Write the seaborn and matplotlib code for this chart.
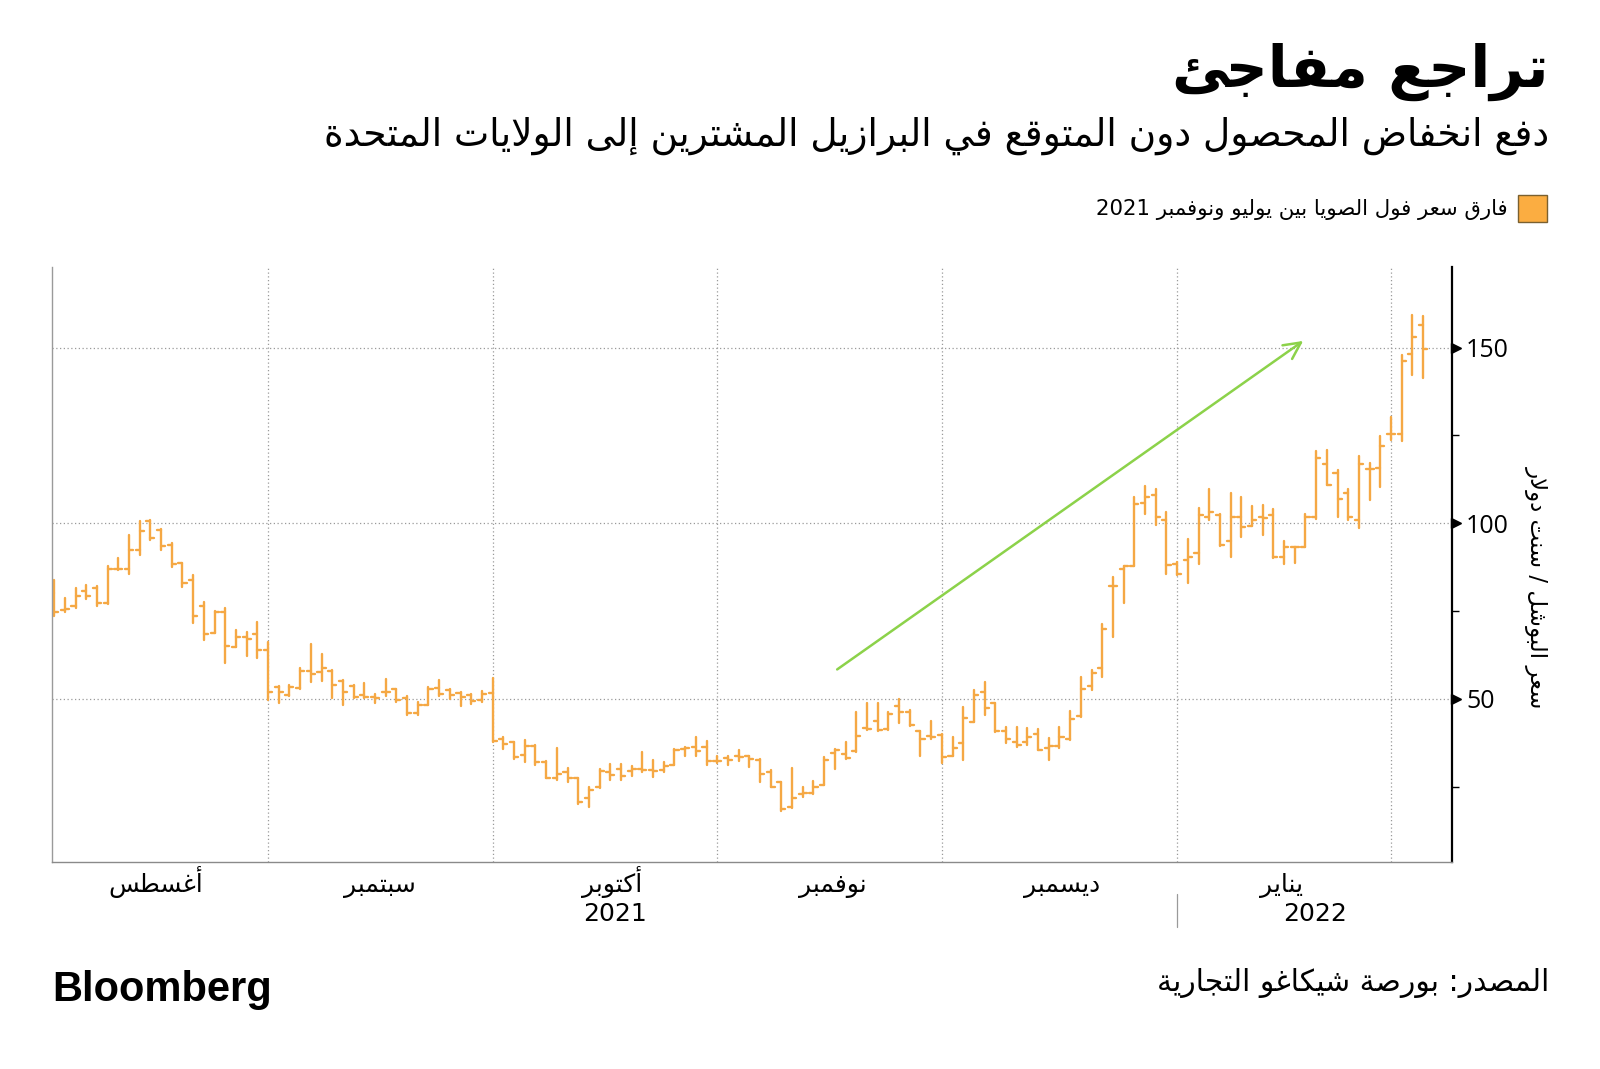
import re
import numpy as np
import pandas as pd
import matplotlib
matplotlib.use("Agg")
import matplotlib.pyplot as plt
import matplotlib.transforms as mtransforms
from matplotlib.patches import Rectangle
import seaborn as sns

# ---------------- data ----------------
bar_open = [80.0, 75.3, 76.5, 80.6, 81.5, 77.2, 87.0, 86.9, 92.3, 100.5,
            98.1, 93.9, 88.6, 83.9, 76.5, 68.7, 74.6, 64.7, 67.7, 68.5,
            63.8, 53.3, 51.1, 53.0, 57.8, 57.5, 58.0, 55.2, 53.7, 51.1,
            50.5, 51.9, 52.7, 50.2, 45.9, 48.3, 53.0, 52.4, 51.6, 51.1,
            49.7, 51.6, 38.4, 37.6, 34.0, 36.6, 32.1, 27.4, 29.0, 27.4,
            21.7, 25.0, 29.0, 30.0, 29.3, 30.0, 29.8, 29.6, 31.2, 35.6,
            36.4, 36.2, 32.4, 33.1, 33.8, 33.6, 32.6, 29.0, 26.2, 19.1,
            22.9, 23.1, 25.5, 34.5, 34.3, 35.0, 41.6, 43.8, 41.3, 47.8,
            46.1, 40.7, 39.5, 39.7, 33.6, 37.4, 43.5, 51.8, 48.9, 40.7,
            37.8, 37.8, 40.0, 35.9, 36.6, 38.5, 45.1, 53.7, 58.7, 82.2,
            86.9, 87.9, 105.7, 108.1, 100.8, 88.4, 89.4, 91.5, 101.9, 102.4,
            95.0, 101.9, 99.2, 101.9, 102.4, 90.3, 93.2, 93.2, 101.7, 116.9,
            114.4, 108.7, 100.9, 115.4, 115.7, 125.5, 125.5, 148.3, 156.6]
bar_high = [83.9, 78.7, 81.5, 82.5, 82.0, 87.7, 90.1, 96.7, 100.5, 100.8,
            98.3, 94.5, 88.8, 85.3, 77.7, 74.9, 75.8, 69.7, 68.9, 72.0,
            66.3, 53.5, 54.0, 58.7, 65.6, 62.7, 58.2, 55.4, 54.0, 54.4,
            51.4, 55.6, 52.7, 50.8, 49.2, 53.3, 55.4, 52.7, 51.8, 51.3,
            52.1, 56.0, 39.2, 37.8, 38.3, 36.9, 32.4, 35.9, 30.2, 27.4,
            25.0, 29.9, 31.5, 31.5, 30.9, 34.7, 32.6, 32.1, 35.6, 36.4,
            39.1, 38.1, 33.8, 33.8, 35.5, 33.8, 32.8, 29.6, 26.4, 30.2,
            25.0, 26.7, 33.4, 35.7, 37.6, 46.1, 48.9, 48.9, 46.1, 49.9,
            46.7, 40.7, 43.8, 40.0, 39.1, 47.6, 52.5, 54.9, 48.9, 41.9,
            41.9, 41.6, 41.3, 38.8, 42.1, 46.6, 56.1, 58.2, 71.4, 84.7,
            87.9, 107.4, 110.7, 109.7, 103.1, 89.1, 95.5, 104.3, 109.7, 102.7,
            108.5, 107.4, 104.9, 105.2, 104.0, 95.0, 93.2, 102.7, 120.7, 120.9,
            115.2, 109.7, 119.2, 117.3, 124.9, 130.2, 148.0, 159.4, 159.1]
bar_low = [73.5, 74.6, 75.8, 78.4, 76.5, 77.1, 86.6, 85.6, 91.0, 95.3,
           92.5, 87.5, 81.8, 71.6, 66.8, 68.7, 60.3, 64.7, 62.1, 61.6,
           49.7, 48.7, 50.7, 52.7, 54.9, 55.2, 50.2, 48.3, 50.2, 50.2,
           48.7, 50.7, 49.2, 45.4, 45.4, 48.3, 50.8, 49.9, 48.0, 48.6,
           49.2, 37.8, 35.6, 32.7, 32.1, 31.2, 27.4, 26.9, 26.4, 20.1,
           19.3, 24.5, 26.9, 26.9, 27.9, 29.0, 27.7, 29.0, 31.2, 33.6,
           33.8, 31.2, 31.7, 31.2, 32.4, 30.5, 26.2, 24.8, 17.9, 18.8,
           22.0, 22.9, 25.5, 30.0, 32.8, 34.7, 41.2, 40.7, 41.2, 43.2,
           42.3, 33.6, 38.5, 31.7, 33.6, 32.6, 43.3, 45.4, 40.4, 37.3,
           36.2, 36.9, 35.4, 32.6, 35.9, 38.3, 44.9, 52.5, 56.3, 67.7,
           77.4, 87.9, 102.7, 99.6, 85.6, 85.3, 83.1, 88.3, 100.8, 93.5,
           90.3, 96.2, 99.2, 96.7, 90.0, 88.4, 88.8, 93.2, 101.1, 110.9,
           101.7, 100.8, 98.6, 106.5, 110.3, 123.6, 123.3, 142.3, 141.4]
bar_close = [74.6, 75.5, 79.2, 79.3, 77.4, 86.9, 86.9, 92.3, 97.7, 95.8,
             93.4, 88.5, 82.9, 73.6, 68.5, 74.6, 65.1, 67.7, 67.0, 63.8,
             51.8, 52.0, 53.3, 58.0, 57.1, 58.7, 54.0, 51.9, 50.5, 50.6,
             50.2, 51.9, 49.7, 45.9, 48.3, 52.7, 51.4, 51.1, 50.4, 49.5,
             51.4, 38.1, 37.0, 33.4, 36.6, 31.9, 27.4, 28.6, 27.4, 20.5,
             24.1, 29.3, 28.3, 27.9, 30.0, 29.8, 29.3, 30.9, 35.5, 35.9,
             35.0, 32.4, 32.4, 32.6, 33.4, 32.8, 28.6, 25.0, 18.6, 21.7,
             23.1, 25.0, 32.6, 35.5, 33.1, 39.5, 41.3, 41.0, 45.7, 46.1,
             42.6, 38.5, 39.1, 33.4, 35.9, 44.5, 51.0, 47.3, 40.7, 38.5,
             36.9, 39.0, 35.4, 36.6, 39.0, 44.2, 52.7, 57.3, 69.8, 82.2,
             87.7, 105.5, 107.4, 101.9, 88.2, 85.6, 90.4, 102.4, 103.3, 93.8,
             101.9, 98.9, 100.9, 101.4, 90.3, 93.2, 93.2, 101.7, 118.5, 110.9,
             106.8, 101.7, 116.9, 115.4, 122.0, 125.5, 146.3, 153.1, 149.6]

month_names = ["أغسطس", "سبتمبر", "أكتوبر", "نوفمبر", "ديسمبر", "يناير"]
month_label_idx = [9.5, 30.5, 52.2, 72.8, 94.2, 114.8]
month_start_idx = [20, 41, 62, 83, 105, 125]      # first trading day Sep .. Feb
year_labels = ["2021", "2022"]
year_label_idx = [52.4, 117.9]
year_split_idx = 105
y_major = [50, 100, 150]
y_minor = [25, 75, 125]
arrow_start = (73.0, 57.9)
arrow_end = (117.0, 152.4)

title_txt = "تراجع مفاجئ"
subtitle_txt = "دفع انخفاض المحصول دون المتوقع في البرازيل المشترين إلى الولايات المتحدة"
legend_txt = "فارق سعر فول الصويا بين يوليو ونوفمبر 2021"
ylabel_txt = "سعر البوشل / سنت دولار"
source_txt = "المصدر: بورصة شيكاغو التجارية"

BAR_COLOR = "#F5A844"
ARROW_COLOR = "#8CD24A"

# ---------------- Arabic shaping (presentation forms + visual order) ----------------
_order = [(0x621, 1), (0x622, 2), (0x623, 2), (0x624, 2), (0x625, 2), (0x626, 4),
          (0x627, 2), (0x628, 4), (0x629, 2), (0x62A, 4), (0x62B, 4), (0x62C, 4),
          (0x62D, 4), (0x62E, 4), (0x62F, 2), (0x630, 2), (0x631, 2), (0x632, 2),
          (0x633, 4), (0x634, 4), (0x635, 4), (0x636, 4), (0x637, 4), (0x638, 4),
          (0x639, 4), (0x63A, 4), (0x641, 4), (0x642, 4), (0x643, 4), (0x644, 4),
          (0x645, 4), (0x646, 4), (0x647, 4), (0x648, 2), (0x649, 2), (0x64A, 4)]
FORMS = {}
_p = 0xFE80
for cp, n in _order:
    forms = [chr(_p + k) for k in range(n)]
    iso = forms[0]
    fin = forms[1] if n >= 2 else None
    ini = forms[2] if n == 4 else None
    med = forms[3] if n == 4 else None
    FORMS[chr(cp)] = (iso, fin, ini, med)
    _p += n
LAMALEF = {"\u0622": ("\uFEF5", "\uFEF6"), "\u0623": ("\uFEF7", "\uFEF8"),
           "\u0625": ("\uFEF9", "\uFEFA"), "\u0627": ("\uFEFB", "\uFEFC")}


def shape(s):
    out = []
    prev_joins = False
    i = 0
    while i < len(s):
        c = s[i]
        if c not in FORMS:
            out.append(c)
            prev_joins = False
            i += 1
            continue
        iso, fin, ini, med = FORMS[c]
        nxt = s[i + 1] if i + 1 < len(s) else ""
        if c == "\u0644" and nxt in LAMALEF:
            out.append(LAMALEF[nxt][1] if prev_joins else LAMALEF[nxt][0])
            prev_joins = False
            i += 2
            continue
        jp = prev_joins and fin is not None
        jn = ini is not None and nxt in FORMS and FORMS[nxt][1] is not None
        if jp and jn:
            out.append(med)
        elif jp:
            out.append(fin)
        elif jn:
            out.append(ini)
        else:
            out.append(iso)
        prev_joins = ini is not None
        i += 1
    vis = "".join(out)[::-1]
    vis = re.sub(r"[0-9]+", lambda m: m.group(0)[::-1], vis)
    return vis


# ---------------- figure ----------------
sns.set_theme(style="white")
plt.rcParams["font.family"] = ["DejaVu Sans"]

W, H = 1600, 1069
fig = plt.figure(figsize=(W / 100, H / 100), dpi=100)
fig.patch.set_facecolor("white")
ax_l, ax_r, ax_t, ax_b = 52, 1452, 267, 862
ax = fig.add_axes([ax_l / W, 1 - ax_b / H, (ax_r - ax_l) / W, (ax_b - ax_t) / H])
ax.set_facecolor("white")

n = len(bar_close)
w = 0.38
rows = []
for i in range(n):
    rows += [(i, bar_low[i], 3 * i), (i, bar_high[i], 3 * i)]
    rows += [(i - w, bar_open[i], 3 * i + 1), (i, bar_open[i], 3 * i + 1)]
    rows += [(i, bar_close[i], 3 * i + 2), (i + w, bar_close[i], 3 * i + 2)]
seg = pd.DataFrame(rows, columns=["x", "y", "seg"])
sns.lineplot(data=seg, x="x", y="y", units="seg", estimator=None, sort=False,
             color=BAR_COLOR, lw=1.7, ax=ax, legend=False)

ax.set_xlim(-0.2, 130.7)
ax.set_ylim(3.5, 173)

# grid
for v in y_major:
    ax.axhline(v, color="#9a9a9a", lw=0.9, ls=(0, (1, 2)), zorder=0)
for m in month_start_idx:
    ax.axvline(m, color="#9a9a9a", lw=0.9, ls=(0, (1, 2)), zorder=0)

# arrow
ax.annotate("", xy=arrow_end, xytext=arrow_start,
            arrowprops=dict(arrowstyle="->,head_length=1.0,head_width=0.5",
                            color=ARROW_COLOR, lw=1.8))

# spines
ax.spines["top"].set_visible(False)
ax.spines["left"].set_color("#9a9a9a")
ax.spines["left"].set_linewidth(1.0)
ax.spines["bottom"].set_color("#8a8a8a")
ax.spines["bottom"].set_linewidth(1.0)
ax.spines["right"].set_color("black")
ax.spines["right"].set_linewidth(1.6)

# y axis on right
ax.yaxis.tick_right()
ax.set_yticks(y_major)
ax.set_yticks(y_minor, minor=True)
ax.set_yticklabels([str(v) for v in y_major], fontsize=18, family="Open Sans")
ax.tick_params(axis="y", which="major", length=0, pad=10, labelcolor="black")
ax.tick_params(axis="y", which="minor", length=5, width=1, color="black", direction="out")
tri_tr = mtransforms.offset_copy(ax.get_yaxis_transform(), fig=fig, x=4, y=0, units="dots")
ax.plot(np.ones(len(y_major)), y_major, ls="none", marker=">", ms=7, color="black",
        transform=tri_tr, clip_on=False)

# x axis
ax.set_xticks(month_start_idx)
ax.set_xticklabels([""] * len(month_start_idx))
ax.tick_params(axis="x", length=6, width=0.8, color="#9a9a9a", direction="out")
ax.set_xlabel("")
ax.set_ylabel("")
xt = ax.get_xaxis_transform()
for lab, xi in zip(month_names, month_label_idx):
    ax.text(xi, -0.05, shape(lab), transform=xt, ha="center", va="baseline",
            fontsize=18, color="black")
for lab, xi in zip(year_labels, year_label_idx):
    ax.text(xi, -0.099, lab, transform=xt, ha="center", va="baseline",
            fontsize=18, color="black")
ax.plot([year_split_idx, year_split_idx], [-0.054, -0.11], transform=xt,
        color="#9a9a9a", lw=0.9, clip_on=False)

# y label
fig.text(1536 / W, 1 - 587 / H, shape(ylabel_txt), rotation=270, ha="center",
         va="center", fontsize=16.5, color="black")

# titles
fig.text(1549 / W, 1 - 72 / H, shape(title_txt), ha="right", va="center",
         fontsize=42, fontweight="bold", color="black")
fig.text(1549 / W, 1 - 136 / H, shape(subtitle_txt), ha="right", va="center",
         fontsize=27, color="black")

# legend
fig.patches.append(Rectangle((1518 / W, 1 - 222 / H), 29 / W, 27 / H,
                             transform=fig.transFigure, facecolor="#FBAD41",
                             edgecolor="#7a6030", lw=1.0))
fig.text(1508 / W, 1 - 209 / H, shape(legend_txt), ha="right", va="center",
         fontsize=15.3, color="black")

# footer
fig.text(1549 / W, 1 - 983 / H, shape(source_txt), ha="right", va="center",
         fontsize=21.4, color="black")
fig.text(52 / W, 1 - 990 / H, "Bloomberg", ha="left", va="center",
         fontsize=30, fontweight="bold", family="Liberation Sans", color="black")

fig.savefig("out.png", dpi=100, facecolor="white")
